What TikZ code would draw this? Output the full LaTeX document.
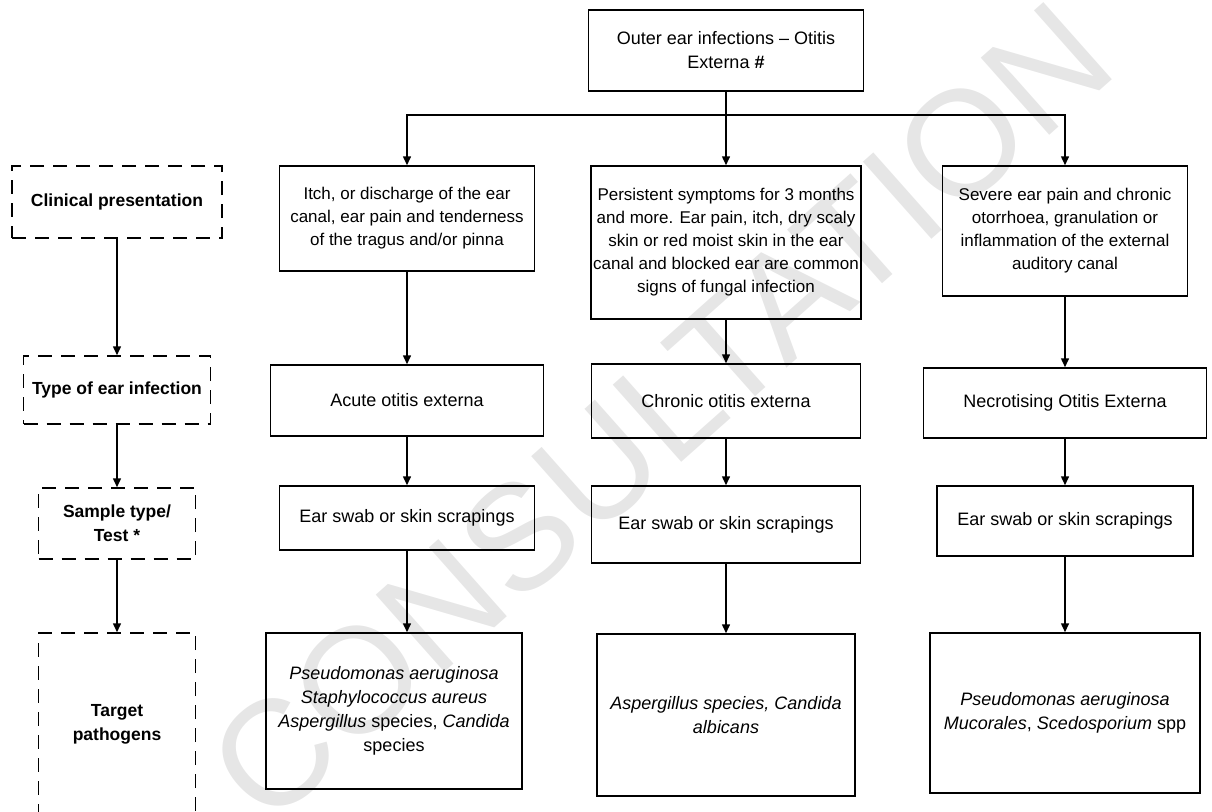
\documentclass[tikz,border=0pt]{standalone}
\usepackage{fontspec}
\setmainfont{Liberation Sans}
\usetikzlibrary{arrows.meta}
\definecolor{wm}{HTML}{E6E6E6}
\tikzset{
  box/.style={draw, line width=1.5pt, inner sep=0pt, align=center,
    font=\fontsize{18}{24}\selectfont},
  sbox/.style={box, font=\fontsize{17}{23}\selectfont},
  lbox/.style={draw, line width=1.5pt, inner sep=0pt, align=center,
    dash pattern=on 14pt off 9pt, font=\bfseries\fontsize{17.5}{24}\selectfont},
  arr/.style={line width=1.5pt, -{Triangle[length=9pt,width=8pt]}},
  ln/.style={line width=1.5pt}
}
\begin{document}
\begin{tikzpicture}[x=1pt,y=-1pt]
\useasboundingbox (0,0) rectangle (1212,811);
% watermark
\node[wm, rotate=41.6, font=\fontsize{150}{150}\selectfont, inner sep=0pt] (wmark) at (660,412) {CONSULTATION};
% top
\node[box, minimum width=275pt, minimum height=81pt] (top) at (726,50.5) {Outer ear infections -- Otitis\\Externa \textbf{\#}};
\coordinate (j) at (726,115);
% row 1
\node[sbox, minimum width=255pt, minimum height=105pt] (c1) at (407,218.5) {Itch, or discharge of the ear\\canal, ear pain and tenderness\\of the tragus and/or pinna};
\node[sbox, minimum width=270pt, minimum height=153pt] (c2) at (726,242.5) {Persistent symptoms for 3 months\\and more. Ear pain, itch, dry scaly\\skin or red moist skin in the ear\\canal and blocked ear are common\\signs of fungal infection};
\node[sbox, minimum width=245pt, minimum height=130pt] (c3) at (1065,231) {Severe ear pain and chronic\\otorrhoea, granulation or\\inflammation of the external\\auditory canal};
% row 2
\node[box, minimum width=273pt, minimum height=71pt] (t1) at (407,400.5) {Acute otitis externa};
\node[box, minimum width=269pt, minimum height=74pt] (t2) at (726,401) {Chronic otitis externa};
\node[box, minimum width=283pt, minimum height=70pt] (t3) at (1065,403) {Necrotising Otitis Externa};
% row 3
\node[box, minimum width=255pt, minimum height=64pt] (s1) at (407,518) {Ear swab or skin scrapings};
\node[box, minimum width=269pt, minimum height=77pt] (s2) at (726,524.5) {Ear swab or skin scrapings};
\node[box, minimum width=256pt, minimum height=70pt] (s3) at (1065,521) {Ear swab or skin scrapings};
% row 4
\node[box, minimum width=256pt, minimum height=156pt] (p1) at (394,711) {\textit{Pseudomonas aeruginosa}\\\textit{Staphylococcus aureus}\\\textit{Aspergillus} species, \textit{Candida}\\species};
\node[box, minimum width=258pt, minimum height=162pt] (p2) at (726,715) {\textit{Aspergillus species, Candida}\\\textit{albicans}};
\node[box, minimum width=270pt, minimum height=160pt] (p3) at (1065,713) {\textit{Pseudomonas aeruginosa}\\\textit{Mucorales}, \textit{Scedosporium} spp};
% left column
\node[lbox, minimum width=210pt, minimum height=72pt] (l1) at (117,202) {Clinical presentation};
\node[lbox, minimum width=187pt, minimum height=68pt] (l2) at (117,390) {Type of ear infection};
\node[lbox, minimum width=157pt, minimum height=71pt] (l3) at (117,523.5) {Sample type/\\Test *};
\node[lbox, minimum width=157pt, minimum height=182pt] (l4) at (117,724) {Target\\pathogens};
% connectors
\draw[ln] (top) -- (j);
\draw[arr] (j) -| (c1);
\draw[arr] (j) -- (c2);
\draw[arr] (j) -| (c3);
\draw[arr] (c1) -- (t1);
\draw[arr] (c2) -- (t2);
\draw[arr] (c3) -- (t3);
\draw[arr] (t1) -- (s1);
\draw[arr] (t2) -- (s2);
\draw[arr] (t3) -- (s3);
\draw[arr] (s1.south) -- (s1.south |- p1.north);
\draw[arr] (s2) -- (p2);
\draw[arr] (s3) -- (p3);
\draw[arr] (l1) -- (l2);
\draw[arr] (l2) -- (l3);
\draw[arr] (l3) -- (l4);
\end{tikzpicture}
\end{document}
